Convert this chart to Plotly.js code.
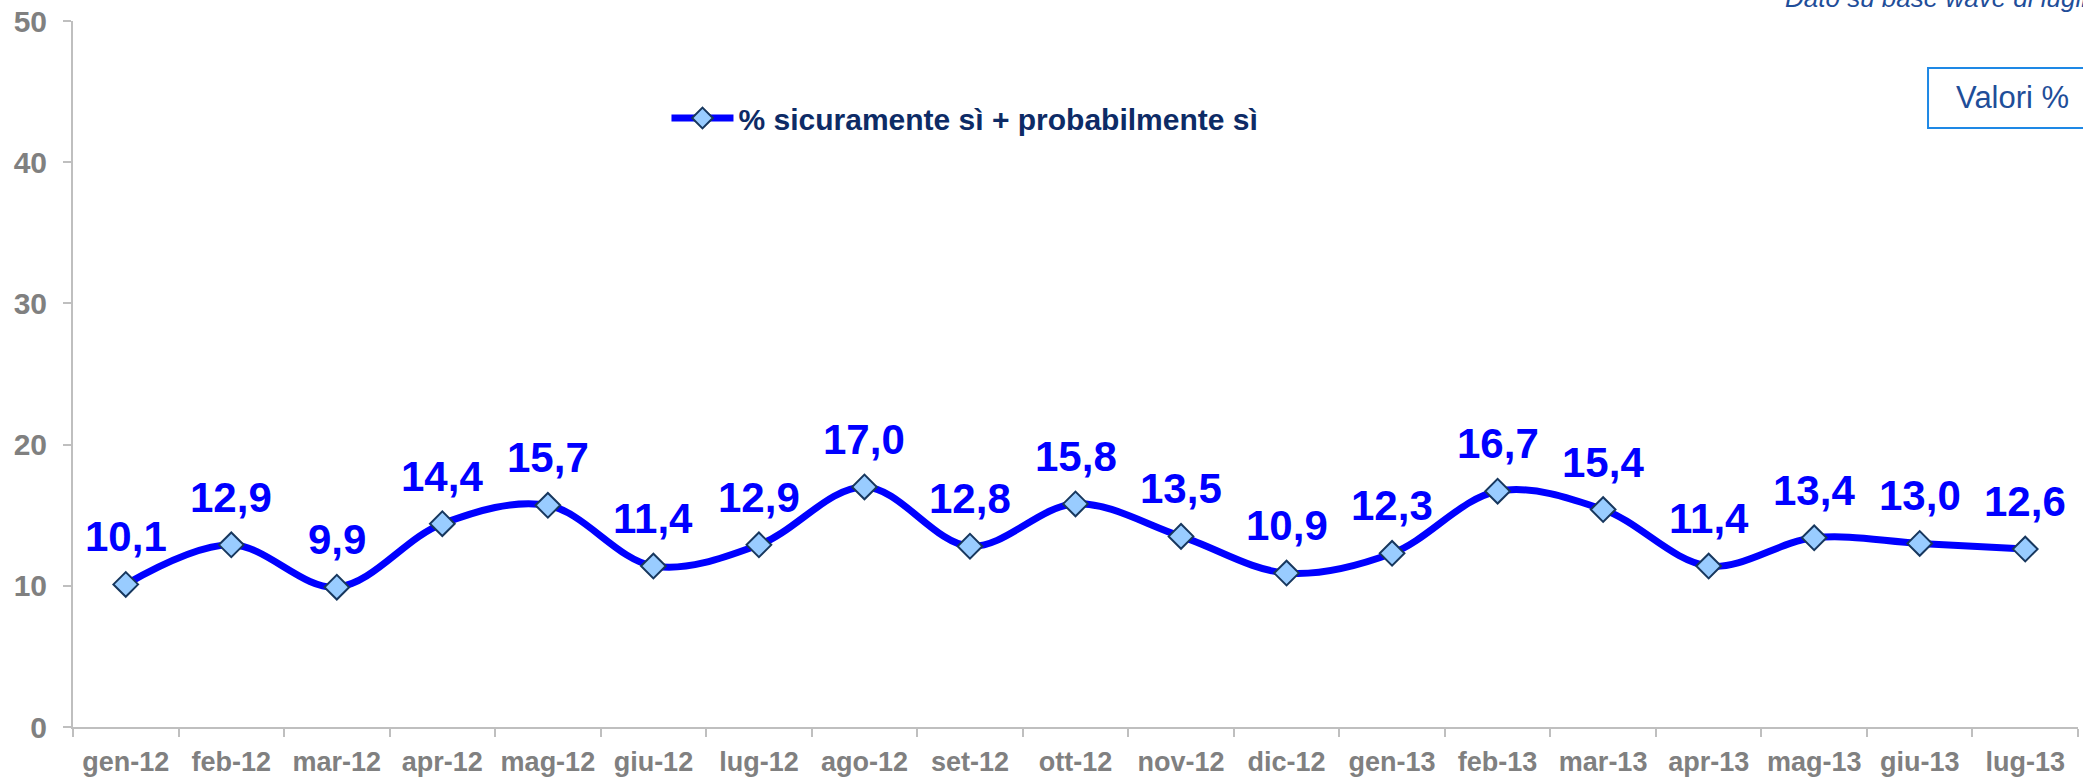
<!DOCTYPE html>
<html>
<head>
<meta charset="utf-8">
<script src="https://cdn.plot.ly/plotly-3.0.1.min.js"></script>
<style>
html,body{margin:0;padding:0;background:#fff;}
#chart{width:2083px;height:778px;}
</style>
</head>
<body>
<div id="chart"></div>
<script>
const months = ["gen-12","feb-12","mar-12","apr-12","mag-12","giu-12","lug-12","ago-12","set-12","ott-12","nov-12","dic-12","gen-13","feb-13","mar-13","apr-13","mag-13","giu-13","lug-13"];
const values = [10.1,12.9,9.9,14.4,15.7,11.4,12.9,17.0,12.8,15.8,13.5,10.9,12.3,16.7,15.4,11.4,13.4,13.0,12.6];
const seriesName = "% sicuramente sì + probabilmente sì";
const noteText = "Dato su base wave di luglio 2013";
const unitText = "Valori %";

const labels = values.map(v => v.toFixed(1).replace('.', ','));
const FONT = 'Liberation Sans, Arial, sans-serif';

const trace = {
  x: months,
  y: values,
  type: 'scatter',
  mode: 'lines+markers',
  name: seriesName,
  line: {color: '#0000ff', width: 7, shape: 'spline', smoothing: 1},
  marker: {symbol: 'diamond', size: 19, color: '#99ccff', line: {color: '#17375e', width: 2}},
  hoverinfo: 'x+y'
};

const labelAnnotations = months.map((m, i) => ({
  x: m, y: values[i], xref: 'x', yref: 'y',
  text: labels[i], showarrow: false,
  xanchor: 'center', yanchor: 'bottom', yshift: 22,
  font: {family: FONT, size: 42, color: '#0000ff', weight: 'bold'}
}));

const layout = {
  width: 2083,
  height: 778,
  margin: {l: 73, r: 5, t: 21, b: 51},
  paper_bgcolor: '#ffffff',
  plot_bgcolor: '#ffffff',
  showlegend: true,
  legend: {
    x: 0.296, y: 0.8626, xanchor: 'left', yanchor: 'middle',
    orientation: 'h',
    itemwidth: 62,
    font: {family: FONT, size: 30, color: '#0d2b66', weight: 'bold'},
    bgcolor: 'rgba(0,0,0,0)'
  },
  xaxis: {
    type: 'category',
    range: [-0.5, 18.5],
    showgrid: false,
    zeroline: false,
    showline: true,
    linecolor: '#bfbfbf',
    linewidth: 2,
    ticks: 'outside',
    tickson: 'boundaries',
    ticklen: 8,
    tickwidth: 2,
    tickcolor: '#bfbfbf',
    tickangle: 0,
    ticklabelstandoff: 10,
    tickfont: {family: FONT, size: 27, color: '#808080', weight: 'bold'},
    fixedrange: true
  },
  yaxis: {
    range: [0, 50],
    dtick: 10,
    showgrid: false,
    zeroline: false,
    showline: true,
    linecolor: '#bfbfbf',
    linewidth: 2,
    ticks: 'outside',
    ticklen: 8,
    tickwidth: 2,
    tickcolor: '#bfbfbf',
    ticklabelstandoff: 10,
    tickfont: {family: FONT, size: 30, color: '#808080', weight: 'bold'},
    fixedrange: true
  },
  shapes: [{
    type: 'rect', xref: 'paper', yref: 'paper',
    x0: 0.9252, x1: 1.06, y0: 0.8484, y1: 0.9334,
    line: {color: '#1e88e5', width: 2}, fillcolor: 'rgba(0,0,0,0)'
  }],
  annotations: labelAnnotations.concat([
    {
      text: noteText, xref: 'paper', yref: 'paper',
      x: 0.853, y: 1.008, xanchor: 'left', yanchor: 'bottom',
      showarrow: false,
      font: {family: FONT, size: 26, color: '#1f4e99', style: 'italic'}
    },
    {
      text: unitText, xref: 'paper', yref: 'paper',
      x: 0.9380, y: 0.891, xanchor: 'left', yanchor: 'middle',
      showarrow: false,
      font: {family: FONT, size: 31, color: '#1f4e99'}
    }
  ])
};

Plotly.newPlot('chart', [trace], layout, {displayModeBar: false, staticPlot: true});
</script>
</body>
</html>
